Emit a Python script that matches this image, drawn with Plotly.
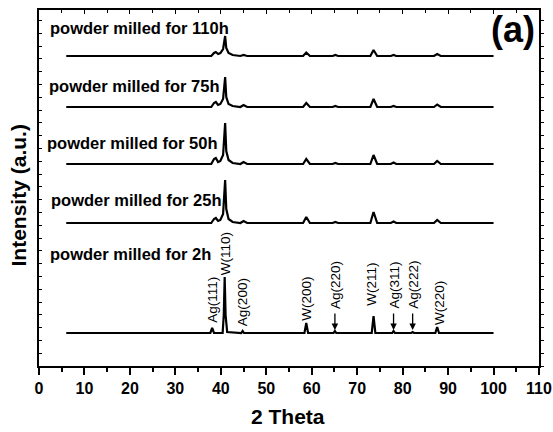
import plotly.graph_objects as go

# ---- data (2-theta in degrees, intensity above each pattern's baseline, a.u.) ----
two_theta_2h = [6, 37.7, 38.1, 38.5, 40.4, 40.65, 40.85, 41.05, 41.4, 44.5, 44.8, 45.1,
                58.4, 58.8, 59.2, 64.8, 65.1, 65.4, 73.2, 73.6, 74.0, 77.7, 78.0, 78.3,
                81.9, 82.2, 82.5, 87.2, 87.6, 88.0, 100]
int_2h = [0, 0, 5, 0, 0, 18, 56, 18, 1, 0, 2, 0,
          0, 10, 0, 0, 2, 0, 0, 17, 0, 0, 2, 0,
          0, 1, 0, 0, 6, 0, 0]

two_theta_milled = [6, 37.9, 38.5, 38.9, 39.4, 39.9, 40.5, 40.75, 40.95, 41.2, 41.7, 42.6,
                    44.3, 45.0, 45.8, 58.1, 58.8, 59.6, 64.6, 65.2, 65.8, 72.9, 73.6, 74.4,
                    77.4, 78.0, 78.6, 86.9, 87.6, 88.4, 100]
milled_labels = ["25h", "50h", "75h", "110h"]
int_25h = [0, 0, 4, 5, 2, 3, 9, 26, 43, 14, 4, 1, 0, 2, 0, 0, 6, 0, 0, 1, 0, 0, 11, 0, 0, 1.5, 0, 0, 3, 0, 0]
int_50h = [0, 0, 5, 6, 2, 3, 9, 25, 41, 13, 4, 1, 0, 2, 0, 0, 5, 0, 0, 1, 0, 0, 9, 0, 0, 1.5, 0, 0, 3, 0, 0]
int_75h = [0, 0, 4, 5, 2, 3, 8, 19, 30, 10, 3, 1, 0, 2, 0, 0, 4, 0, 0, 1, 0, 0, 8, 0, 0, 1, 0, 0, 2.5, 0, 0]
int_110h = [0, 0, 3, 4, 2, 3, 7, 13, 20, 8, 3, 1, 0, 1, 0, 0, 3.5, 0, 0, 1, 0, 0, 6, 0, 0, 1, 0, 0, 2, 0, 0]
milled_intensities = [int_25h, int_50h, int_75h, int_110h]

# vertical stacking offsets (a.u.)
offset_2h = 33
milled_offsets = [143, 202, 259, 310]

# peak identifications of the 2h pattern
peak_names = ["Ag(111)", "W(110)", "Ag(200)", "W(200)", "Ag(220)", "W(211)", "Ag(311)", "Ag(222)", "W(220)"]
peak_pos = [38.0, 41.1, 44.8, 58.8, 65.1, 73.1, 78.0, 82.2, 88.1]
peak_label_y = [66, 112.5, 63.5, 67.5, 81, 81.5, 81, 81, 63.5]
peak_arrow = [False, False, False, False, True, False, True, True, False]

FONT = "Liberation Sans, Arial, sans-serif"

fig = go.Figure()
line = dict(color="black", width=2.2)
fig.add_trace(go.Scatter(x=two_theta_2h, y=[v + offset_2h for v in int_2h],
                         mode="lines", line=line, showlegend=False, hoverinfo="skip"))
for lab, ints, off in zip(milled_labels, milled_intensities, milled_offsets):
    fig.add_trace(go.Scatter(x=two_theta_milled, y=[v + off for v in ints],
                             mode="lines", line=line, showlegend=False, hoverinfo="skip"))

# dummy traces to show the top and right axes
fig.add_trace(go.Scatter(x=[50], y=[100], xaxis="x2", yaxis="y", mode="markers",
                         marker=dict(opacity=0), showlegend=False, hoverinfo="skip"))
fig.add_trace(go.Scatter(x=[50], y=[100], xaxis="x", yaxis="y2", mode="markers",
                         marker=dict(opacity=0), showlegend=False, hoverinfo="skip"))

ann = []
# sample labels
sample_text = ["powder milled for 2h", "powder milled for 25h", "powder milled for 50h",
               "powder milled for 75h", "powder milled for 110h"]
sample_x = [2.05, 2.27, 1.32, 1.69, 1.98]
sample_y = [112, 166, 223, 280, 338]
for t, x, y in zip(sample_text, sample_x, sample_y):
    ann.append(dict(x=x, y=y, xref="x", yref="y", text="<b>%s</b>" % t, showarrow=False,
                    xanchor="left", yanchor="middle", font=dict(family=FONT, size=16.5, color="black")))

for name, x, y, arr in zip(peak_names, peak_pos, peak_label_y, peak_arrow):
    ann.append(dict(x=x, y=y, xref="x", yref="y", text=name, showarrow=False, textangle=-90,
                    xanchor="center", yanchor="middle", font=dict(family=FONT, size=13.5, color="black")))
    if arr:
        ann.append(dict(x=x, y=36, xref="x", yref="y", ax=0, ay=-18, text="", showarrow=True,
                        arrowhead=2, arrowsize=1, arrowwidth=1.3, arrowcolor="black"))

ann.append(dict(x=0.948, y=0.944, xref="paper", yref="paper", text="<b>(a)</b>", showarrow=False,
                xanchor="center", yanchor="middle", font=dict(family=FONT, size=36, color="black")))
ann.append(dict(x=0.498, y=-0.143, xref="paper", yref="paper", text="<b>2 Theta</b>", showarrow=False,
                xanchor="center", yanchor="middle", font=dict(family=FONT, size=21, color="black")))
ann.append(dict(x=-0.042, y=0.479, xref="paper", yref="paper", text="<b>Intensity (a.u.)</b>",
                showarrow=False, textangle=-90, xanchor="center", yanchor="middle",
                font=dict(family=FONT, size=21, color="black")))

fig.update_layout(
    width=553, height=432,
    margin=dict(l=39, r=14, t=10, b=66, autoexpand=False),
    paper_bgcolor="white", plot_bgcolor="white",
    font=dict(family=FONT, color="black"),
    annotations=ann,
    xaxis=dict(range=[0, 110], tick0=0, dtick=10, ticks="outside", ticklen=7, tickwidth=1.5,
               tickcolor="black", showline=True, linecolor="black", linewidth=2, showgrid=False,
               zeroline=False, automargin=False, tickfont=dict(family=FONT, size=16, color="black"),
               tickprefix="<b>", ticksuffix="</b>",
               minor=dict(dtick=5, tick0=0, ticks="outside", ticklen=4, tickwidth=1.5, tickcolor="black")),
    xaxis2=dict(range=[0, 110], overlaying="x", side="top", tick0=0, dtick=10, ticks="inside",
                ticklen=4, tickwidth=1, tickcolor="black", showline=True, linecolor="black",
                linewidth=1.5, showgrid=False, zeroline=False, showticklabels=False, automargin=False,
                minor=dict(dtick=5, tick0=0, ticks="inside", ticklen=3, tickcolor="black")),
    yaxis=dict(range=[0, 356], tick0=0, dtick=12.8, ticks="inside", ticklen=3, tickwidth=1,
               tickcolor="black", showline=True, linecolor="black", linewidth=2, showgrid=False,
               zeroline=False, showticklabels=False, automargin=False),
    yaxis2=dict(range=[0, 356], overlaying="y", side="right", tick0=0, dtick=12.8, ticks="outside",
                ticklen=3, tickwidth=1, tickcolor="black", showline=True, linecolor="black",
                linewidth=1.5, showgrid=False, zeroline=False, showticklabels=False, automargin=False),
)

fig.write_html("out.html")
